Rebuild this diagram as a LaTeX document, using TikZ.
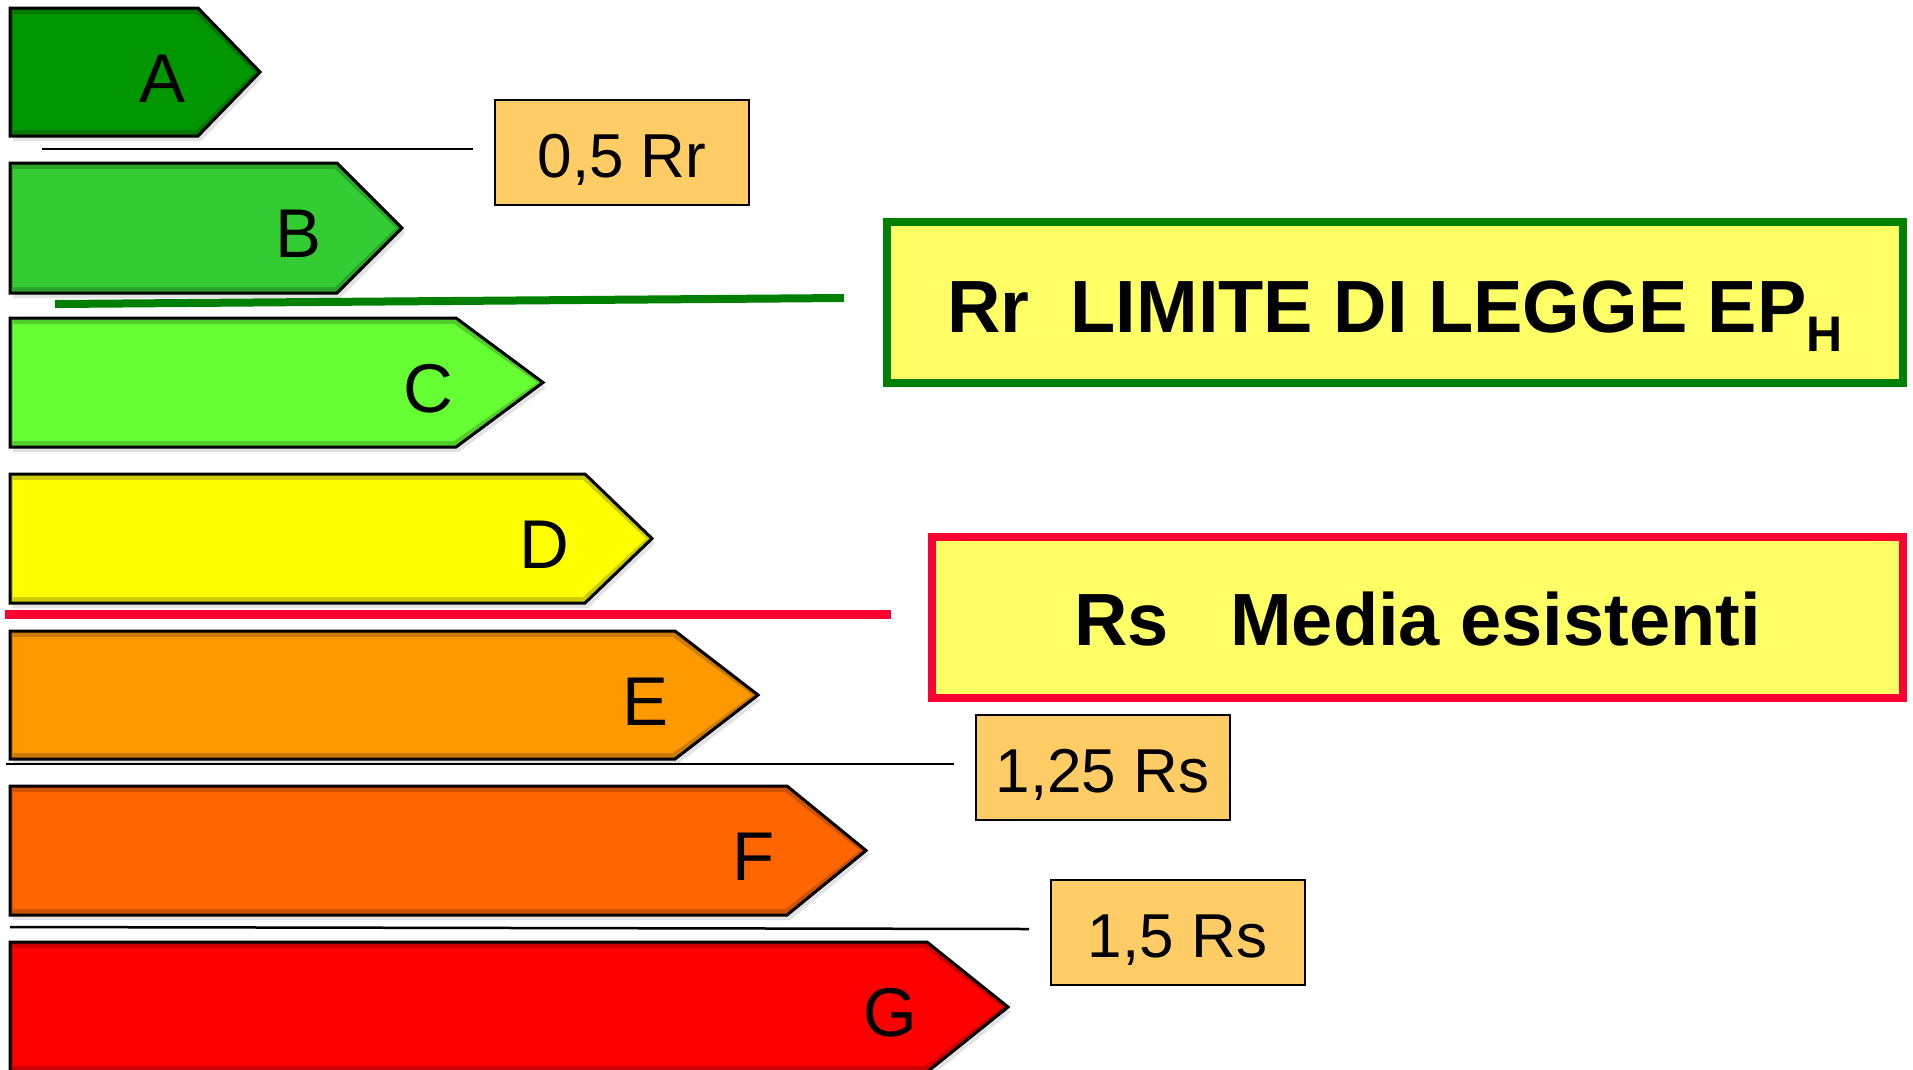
\documentclass[tikz,border=0pt]{standalone}
\usepackage{fontspec}
\setmainfont{Liberation Sans}
\usetikzlibrary{calc}
\definecolor{cA}{RGB}{0,150,0}
\definecolor{cB}{RGB}{51,204,51}
\definecolor{cC}{RGB}{102,255,51}
\definecolor{cD}{RGB}{255,255,0}
\definecolor{cE}{RGB}{255,153,0}
\definecolor{cF}{RGB}{255,102,0}
\definecolor{cG}{RGB}{255,0,0}
\definecolor{limgreen}{RGB}{0,128,0}
\definecolor{limred}{RGB}{255,0,51}
\definecolor{yelfill}{RGB}{255,255,102}
\definecolor{orafill}{RGB}{255,204,102}
\newcommand{\EnBand}[8]{%
  \pgfmathsetmacro{\bmid}{(#2+#3)/2}%
  \pgfmathsetmacro{\bbase}{#2+94}%
  \fill[gray!22,shift={(3,5)}] (10,#2) -- (#4,#2) -- (#5,\bmid) -- (#4,#3) -- (10,#3) -- cycle;
  \fill[#6!80!black] (10,#2) -- (#4,#2) -- (#5,\bmid) -- (#4,#3) -- (10,#3) -- cycle;
  \fill[#6] (13,#2+6) -- (#4-2,#2+6) -- (#5-6,\bmid) -- (#4-2,#3-6) -- (13,#3-6) -- cycle;
  \draw[bandedge] (10,#2) -- (#4,#2) -- (#5,\bmid) -- (#4,#3) -- (10,#3) -- cycle;
  \node[bandletter] (#1) at (#7,\bbase) {#8};
}
\begin{document}
\begin{tikzpicture}[x=1pt,y=-1pt,
  bandedge/.style={draw=black, line width=3pt, line join=miter},
  bandletter/.style={anchor=base, inner sep=0pt, font=\fontsize{69}{72}\selectfont},
  valbox/.style={draw=black, line width=2pt, fill=orafill, minimum width=254pt, minimum height=105pt,
     inner sep=0pt, text height=50pt, text depth=0pt, font=\fontsize{62}{66}\selectfont},
  bigbox/.style={line width=8pt, fill=yelfill, inner sep=0pt, text depth=0pt,
     font=\bfseries\fontsize{74}{80}\selectfont},
  sepline/.style={draw=black, line width=2.5pt},
  limline/.style={line width=8pt}]
\useasboundingbox (0,0) rectangle (1913,1069);
\clip (0,0) rectangle (1913,1069);
\fill[white] (0,0) rectangle (1913,1069);

\EnBand{A}{8}{136}{198}{260}{cA}{163}{A}
\EnBand{B}{163}{293}{337}{402}{cB}{299}{B}
\EnBand{C}{318}{447}{456}{543}{cC}{428}{C}
\EnBand{D}{474}{603}{585}{652}{cD}{544}{D}
\EnBand{E}{631}{759}{675}{758}{cE}{646}{E}
\EnBand{F}{786}{915}{787}{866}{cF}{754}{F}
\EnBand{G}{942}{1072}{927}{1008}{cG}{890}{G}

% separators
\coordinate (s1a) at (42,149);  \coordinate (s1b) at (473,149);
\coordinate (s2a) at (55,304);  \coordinate (s2b) at (844,298);
\coordinate (s3a) at (5,614);   \coordinate (s3b) at (891,614);
\coordinate (s4a) at (6,764);   \coordinate (s4b) at (954,764);
\coordinate (s5a) at (10,927);  \coordinate (s5b) at (1029,929);
\draw[sepline] (s1a) -- (s1b);
\draw[limline, limgreen] (s2a) -- (s2b);
\draw[limline, limred, line width=9pt] (s3a) -- (s3b);
\draw[sepline] (s4a) -- (s4b);
\draw[sepline] (s5a) -- (s5b);

% value boxes
\node[valbox] (r05) at (622,152) {0,5 Rr};
\node[valbox] (r125) at (1102.5,767.5) {1,25 Rs};
\node[valbox] (r15) at (1177.5,932.5) {1,5 Rs};

% labels
\node[bigbox, draw=limgreen, minimum width=1016pt, minimum height=161pt, text height=59pt] (rr) at (1395,302.5)
  {Rr\ \ LIMITE DI LEGGE EP\raisebox{-19pt}{\fontsize{50}{50}\selectfont H}};
\node[bigbox, draw=limred, minimum width=971pt, minimum height=161pt, text height=55pt] (rs) at (1417.5,617.5)
  {Rs\ \ \ Media esistenti};
\end{tikzpicture}
\end{document}
